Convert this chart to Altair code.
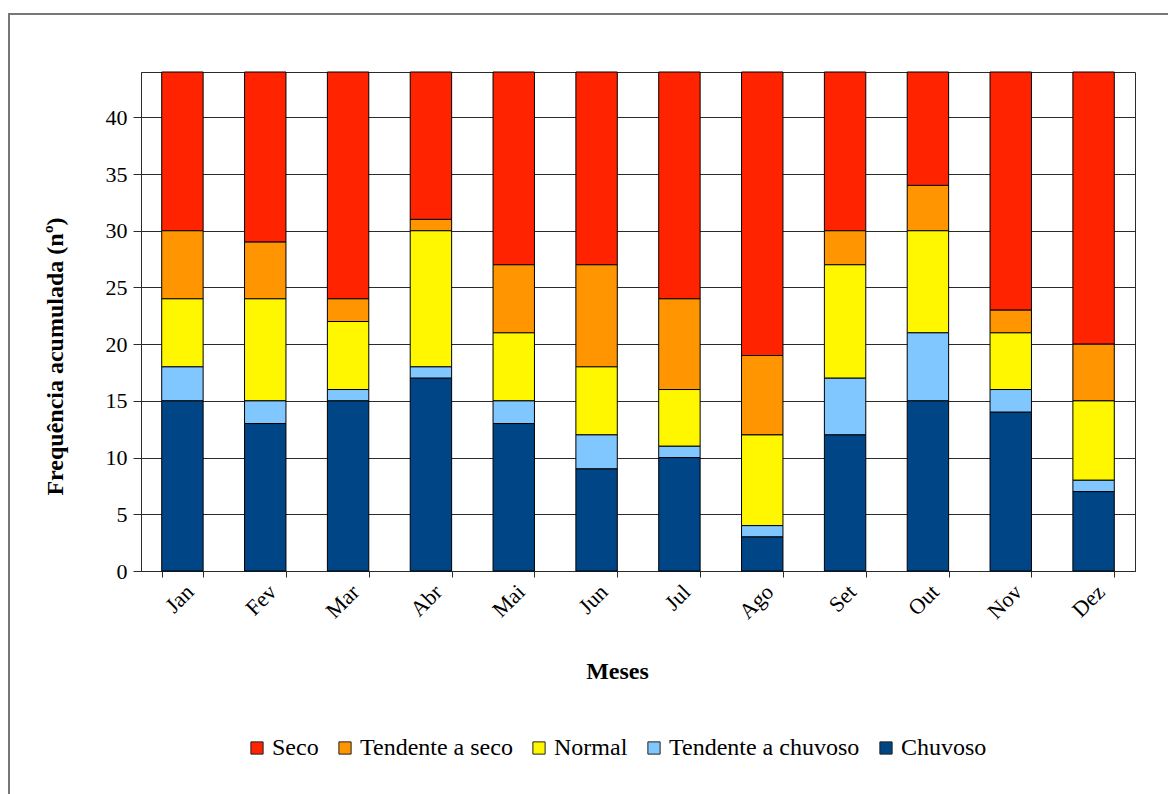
import altair as alt
import pandas as pd

# Monthly counts per rainfall class (total of 44 years per month)
meses = ["Jan", "Fev", "Mar", "Abr", "Mai", "Jun", "Jul", "Ago", "Set", "Out", "Nov", "Dez"]
classes = ["Seco", "Tendente a seco", "Normal", "Tendente a chuvoso", "Chuvoso"]
cores = ["#FF2300", "#FF9500", "#FFF700", "#80C6FF", "#004586"]

chuvoso = [15, 13, 15, 17, 13, 9, 10, 3, 12, 15, 14, 7]
tend_chuvoso = [3, 2, 1, 1, 2, 3, 1, 1, 5, 6, 2, 1]
normal = [6, 9, 6, 12, 6, 6, 5, 8, 10, 9, 5, 7]
tend_seco = [6, 5, 2, 1, 6, 9, 8, 7, 3, 4, 2, 5]
seco = [14, 15, 20, 13, 17, 17, 20, 25, 14, 10, 21, 24]

series = {
    "Seco": seco,
    "Tendente a seco": tend_seco,
    "Normal": normal,
    "Tendente a chuvoso": tend_chuvoso,
    "Chuvoso": chuvoso,
}

rows = []
for cls, vals in series.items():
    for m, v in zip(meses, vals):
        rows.append({"Mês": m, "Classe": cls, "Freq": v, "ordem": 4 - classes.index(cls)})
df = pd.DataFrame(rows)

FONT = "Liberation Serif"

bars = alt.Chart(df).mark_bar(stroke="#000000", strokeWidth=1).encode(
    x=alt.X(
        "Mês:N",
        sort=meses,
        scale=alt.Scale(paddingInner=0.5, paddingOuter=0.25),
        axis=alt.Axis(
            title="Meses",
            labelAngle=-45,
            labelPadding=4,
            tickBand="extent",
            tickSize=6,
            titleX=476,
            titleY=100,
            titleBaseline="middle",
        ),
    ),
    y=alt.Y(
        "Freq:Q",
        stack="zero",
        scale=alt.Scale(domain=[0, 44], nice=False),
        axis=alt.Axis(
            title="Frequência acumulada (nº)",
            values=[0, 5, 10, 15, 20, 25, 30, 35, 40],
            labelPadding=6,
            tickSize=8,
            grid=True,
            gridColor="#2b2b2b",
            gridWidth=1,
            titleX=-86,
            titleY=284,
            titleBaseline="middle",
        ),
    ),
    color=alt.Color(
        "Classe:N",
        sort=classes,
        scale=alt.Scale(domain=classes, range=cores),
        legend=alt.Legend(
            title=None,
            orient="none",
            direction="horizontal",
            legendX=104,
            legendY=664,
            symbolType="square",
            symbolSize=150,
            symbolStrokeColor="#222222",
            symbolStrokeWidth=1,
            symbolOpacity=1,
            labelFont=FONT,
            labelFontSize=24,
            labelColor="#000000",
            labelLimit=400,
            labelOffset=3,
            columnPadding=14,
        ),
    ),
    order=alt.Order("ordem:Q", sort="ascending"),
)

# Outer border of the figure
frame = alt.Chart(pd.DataFrame({"k": [0]})).mark_rect(
    fill=None, stroke="#777777", strokeWidth=2
).encode(
    x=alt.value(-132), x2=alt.value(1200), y=alt.value(-58), y2=alt.value(900)
)

chart = alt.layer(frame, bars).properties(
    width=994,
    height=499,
    autosize=alt.AutoSizeParams(type="none"),
    padding={"left": 141, "top": 72, "right": 33, "bottom": 223},
    background="#FFFFFF",
).configure_view(
    stroke="#2b2b2b", strokeWidth=1
).configure_axis(
    labelFont=FONT,
    labelFontSize=22,
    labelColor="#000000",
    tickColor="#2b2b2b",
    domainColor="#2b2b2b",
    titleFont=FONT,
    titleFontSize=24,
    titleFontWeight="bold",
    titleColor="#000000",
)

chart.save("out.html", embed_options={"renderer": "svg", "actions": False})
